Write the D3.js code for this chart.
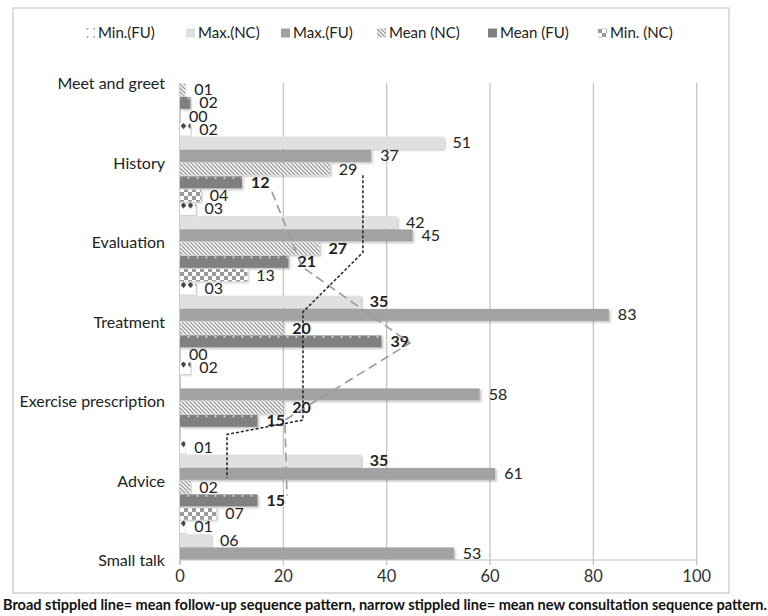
<!DOCTYPE html>
<html>
<head>
<meta charset="utf-8">
<script src="https://cdn.jsdelivr.net/npm/d3@7"></script>
<style>
  body { margin: 0; background: #fff; }
  text { font-family: Lato, "Open Sans", sans-serif; }
</style>
</head>
<body>
<div id="chart"></div>
<script>
var categories = ["Meet and greet", "History", "Evaluation", "Treatment", "Exercise prescription", "Advice", "Small talk"];
var seriesNames = ["Min.(FU)", "Max.(NC)", "Max.(FU)", "Mean (NC)", "Mean (FU)", "Min. (NC)"];

// values per category, null = bar not shown (cut off by the plot edge)
var minFU  = [null, 2, 3, 3, 2, 1, 1];
var maxNC  = [null, 51, 42, 35, null, 35, 6];
var maxFU  = [null, 37, 45, 83, 58, 61, 53];
var meanNC = [1, 29, 27, 20, 20, 2, null];
var meanFU = [2, 12, 21, 39, 15, 15, null];
var minNC  = [0, 4, 13, 0, null, 7, null];

var xTicks = [0, 20, 40, 60, 80, 100];

// hand drawn sequence lines: [value, category position]
var followUpLine = [[17.8, 1.37], [23.6, 2.31], [44.5, 3.27], [20.3, 4.24], [20.7, 5.19]];
var newConsLine  = [[35.4, 1.16], [35.4, 2.13], [23.8, 2.88], [23.8, 4.24], [9.1, 4.42], [9.1, 4.97]];

var boldLabels = ["Mean (FU)|History", "Mean (NC)|Evaluation", "Mean (FU)|Evaluation", "Max.(NC)|Treatment",
  "Mean (NC)|Treatment", "Mean (FU)|Treatment", "Mean (NC)|Exercise prescription",
  "Mean (FU)|Exercise prescription", "Max.(NC)|Advice", "Mean (FU)|Advice"];

var caption = "Broad stippled line= mean follow-up sequence pattern, narrow stippled line= mean new consultation sequence pattern.";

var seriesValues = [minFU, maxNC, maxFU, meanNC, meanFU, minNC];
var fills = ["url(#pMinFU)", "#e0e0e0", "#a2a2a2", "url(#pMeanNC)", "url(#pMeanFU)", "url(#pMinNC)"];

var W = 768, H = 616;
var pLeft = 180, pRight = 696.7, pTop = 83, pBottom = 560;

var svg = d3.select("#chart").append("svg")
  .attr("width", W)
  .attr("height", H);

var defs = svg.append("defs");

var p = defs.append("pattern").attr("id", "pMinFU").attr("patternUnits", "userSpaceOnUse")
  .attr("width", 7).attr("height", 13.25).attr("x", pLeft);
p.append("rect").attr("width", 7).attr("height", 14).attr("fill", "#fff");
p.append("path").attr("d", "M3.5,3.3 L6.2,6.6 L3.5,9.9 L0.8,6.6 Z").attr("fill", "#444");

p = defs.append("pattern").attr("id", "pMeanNC").attr("patternUnits", "userSpaceOnUse")
  .attr("width", 4).attr("height", 4);
p.append("rect").attr("width", 4).attr("height", 4).attr("fill", "#fff");
p.append("path").attr("d", "M-1,-1 L5,5 M-1,3 L1,5 M3,-1 L5,1").attr("stroke", "#9a9a9a").attr("stroke-width", 1.3);

p = defs.append("pattern").attr("id", "pMeanFU").attr("patternUnits", "userSpaceOnUse")
  .attr("width", 9).attr("height", 13.25).attr("x", pLeft + 4);
p.append("rect").attr("width", 9).attr("height", 14).attr("fill", "#808080");
p.append("circle").attr("cx", 4.5).attr("cy", 5.6).attr("r", 1.1).attr("fill", "#d0d0d0");

p = defs.append("pattern").attr("id", "pMinNC").attr("patternUnits", "userSpaceOnUse")
  .attr("width", 8).attr("height", 8).attr("x", pLeft);
p.append("rect").attr("width", 8).attr("height", 8).attr("fill", "#fff");
p.append("rect").attr("width", 4).attr("height", 4).attr("fill", "#9a9a9a");
p.append("rect").attr("x", 4).attr("y", 4).attr("width", 4).attr("height", 4).attr("fill", "#9a9a9a");

var sh = defs.append("filter").attr("id", "shadow").attr("x", "-5%").attr("y", "-30%").attr("width", "120%").attr("height", "180%");
sh.append("feDropShadow").attr("dx", 1.5).attr("dy", 1.5).attr("stdDeviation", 1).attr("flood-color", "#000").attr("flood-opacity", 0.25);

defs.append("clipPath").attr("id", "plotClip")
  .append("rect").attr("x", pLeft).attr("y", pTop).attr("width", pRight - pLeft + 40).attr("height", pBottom - pTop);

svg.append("rect")
  .attr("x", 13).attr("y", 8).attr("width", 716).attr("height", 585)
  .attr("fill", "#fff").attr("stroke", "#bdbdbd");

var x = d3.scaleLinear().domain([0, 100]).range([pLeft, pRight]);
var y = d3.scalePoint().domain(categories).range([pTop, pBottom]);
var step = y.step();
var inner = d3.scaleBand().domain(seriesNames).range([-step / 2, step / 2]).paddingInner(0.1).paddingOuter(0.05);
var yPos = d3.scaleLinear().domain([0, categories.length - 1]).range([pTop, pBottom]);

// grid
svg.append("g").selectAll("line")
  .data(xTicks.slice(1))
  .enter().append("line")
  .attr("x1", function(d) { return x(d); })
  .attr("x2", function(d) { return x(d); })
  .attr("y1", pTop).attr("y2", pBottom + 5)
  .attr("stroke", "#c0c0c0").attr("stroke-width", 1.2);

svg.append("line").attr("x1", pLeft).attr("x2", pRight).attr("y1", pBottom).attr("y2", pBottom)
  .attr("stroke", "#c0c0c0").attr("stroke-width", 1.2);
svg.append("line").attr("x1", pLeft).attr("x2", pLeft).attr("y1", pTop).attr("y2", pBottom + 5)
  .attr("stroke", "#a8a8a8").attr("stroke-width", 1.2);

svg.append("g").selectAll("text")
  .data(xTicks)
  .enter().append("text")
  .attr("x", function(d) { return x(d); })
  .attr("y", 578)
  .attr("text-anchor", "middle")
  .attr("dominant-baseline", "middle")
  .attr("font-size", 16.5)
  .attr("fill", "#333")
  .text(function(d) { return d; });

svg.append("g").selectAll("text")
  .data(categories)
  .enter().append("text")
  .attr("x", 165)
  .attr("y", function(d) { return y(d) + 2; })
  .attr("text-anchor", "end")
  .attr("dominant-baseline", "middle")
  .attr("font-size", 16)
  .attr("fill", "#222")
  .text(function(d) { return d; });

var bars = [];
seriesNames.forEach(function(s, i) {
  categories.forEach(function(c, j) {
    var v = seriesValues[i][j];
    if (v !== null) bars.push({ series: s, cat: c, value: v, fill: fills[i] });
  });
});

var plot = svg.append("g").attr("clip-path", "url(#plotClip)");

plot.selectAll("rect.bar")
  .data(bars)
  .enter().append("rect")
  .attr("class", "bar")
  .attr("x", x(0))
  .attr("y", function(d) { return y(d.cat) + inner(d.series); })
  .attr("width", function(d) { return x(d.value) - x(0); })
  .attr("height", inner.bandwidth())
  .attr("fill", function(d) { return d.fill; })
  .attr("filter", "url(#shadow)");

var line = d3.line()
  .x(function(d) { return x(d[0]); })
  .y(function(d) { return yPos(d[1]); });

svg.append("path")
  .attr("d", line(followUpLine))
  .attr("fill", "none")
  .attr("stroke", "#9a9a9a")
  .attr("stroke-width", 1.6)
  .attr("stroke-dasharray", "9,5");

svg.append("path")
  .attr("d", line(newConsLine))
  .attr("fill", "none")
  .attr("stroke", "#222")
  .attr("stroke-width", 1.5)
  .attr("stroke-dasharray", "3,2");

plot.selectAll("text.val")
  .data(bars)
  .enter().append("text")
  .attr("class", "val")
  .attr("x", function(d) { return x(d.value) + 9; })
  .attr("y", function(d) { return y(d.cat) + inner(d.series) + inner.bandwidth() / 2 + 1.5; })
  .attr("dominant-baseline", "middle")
  .attr("font-size", 16)
  .attr("font-weight", function(d) { return boldLabels.indexOf(d.series + "|" + d.cat) >= 0 ? "bold" : "normal"; })
  .attr("fill", "#222")
  .text(function(d) { return d3.format("02d")(d.value); });

// legend
var legendX = [86, 186, 281, 377, 488, 598];
var leg = svg.append("g").selectAll("g")
  .data(seriesNames)
  .enter().append("g")
  .attr("transform", function(d, i) { return "translate(" + legendX[i] + ",33)"; });

leg.append("rect")
  .attr("x", 0).attr("y", -4.5)
  .attr("width", 9).attr("height", 9)
  .attr("fill", function(d, i) { return fills[i]; });

leg.append("text")
  .attr("x", 12)
  .attr("y", 1)
  .attr("dominant-baseline", "middle")
  .attr("font-size", 15)
  .attr("fill", "#222")
  .text(function(d) { return d; });

svg.append("text")
  .attr("x", 3)
  .attr("y", 606)
  .attr("dominant-baseline", "middle")
  .attr("font-size", 15)
  .attr("font-weight", "bold")
  .attr("fill", "#111")
  .attr("textLength", 764)
  .attr("lengthAdjust", "spacingAndGlyphs")
  .text(caption);
</script>
</body>
</html>
